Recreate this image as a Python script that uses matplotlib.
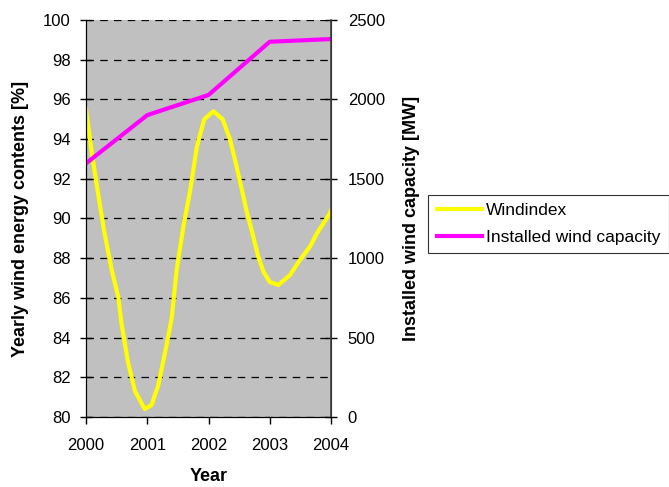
import matplotlib.pyplot as plt

plt.rcParams['font.family'] = ['Liberation Sans', 'DejaVu Sans']

# Windindex
wind_years = [2000.0, 2000.1, 2000.2, 2000.3, 2000.42, 2000.53, 2000.58, 2000.69,
              2000.8, 2000.96, 2001.07, 2001.18, 2001.32, 2001.4, 2001.48, 2001.59,
              2001.7, 2001.81, 2001.93, 2002.08, 2002.23, 2002.35, 2002.46, 2002.57,
              2002.62, 2002.73, 2002.81, 2002.9, 2003.0, 2003.14, 2003.33, 2003.49,
              2003.66, 2003.77, 2003.98, 2004.0]
wind_index = [95.5, 93.2, 91.2, 89.3, 87.4, 86.0, 84.7, 82.7,
              81.3, 80.4, 80.6, 81.6, 83.7, 85.0, 87.4, 89.6,
              91.4, 93.6, 95.0, 95.4, 95.0, 94.0, 92.6, 91.1,
              90.4, 89.1, 88.1, 87.3, 86.8, 86.65, 87.15, 87.9,
              88.6, 89.25, 90.25, 90.4]

# Installed wind capacity [MW]
cap_years = [2000, 2001, 2002, 2003, 2004]
capacity = [1597, 1901, 2028, 2363, 2380]

fig = plt.figure(figsize=(6.69, 4.87), dpi=100)
ax = fig.add_axes([86 / 669, 70 / 487, 245 / 669, 397 / 487])
ax.set_facecolor('#C0C0C0')
ax2 = ax.twinx()

l1, = ax.plot(wind_years, wind_index, color='#FFFF00', lw=3, label='Windindex')
l2, = ax2.plot(cap_years, capacity, color='#FF00FF', lw=3, label='Installed wind capacity')

ax.set_xlim(2000, 2004)
ax.set_ylim(80, 100)
ax2.set_ylim(0, 2500)
ax.set_xticks([2000, 2001, 2002, 2003, 2004])
ax.set_yticks(range(80, 101, 2))
ax2.set_yticks(range(0, 2501, 500))

ax.grid(axis='y', color='black', linestyle=(0, (6, 5)), lw=0.9)
ax.set_axisbelow(True)

for a in (ax, ax2):
    a.tick_params(labelsize=12, width=1, color='black')
    a.spines['top'].set_visible(False)
ax.tick_params(axis='y', direction='inout', length=8, pad=7)
ax.tick_params(axis='x', direction='out', length=5, pad=10)
ax2.tick_params(axis='y', direction='inout', length=8, pad=8)
ax.spines['left'].set_color('black')
ax2.spines['right'].set_color('#404040')
ax2.spines['right'].set_linewidth(1.2)

ax.set_xlabel('Year', fontsize=13, fontweight='bold', labelpad=11)
ax.set_ylabel('Yearly wind energy contents [%]', fontsize=13, fontweight='bold', labelpad=10)
ax2.set_ylabel('Installed wind capacity [MW]', fontsize=13, fontweight='bold', labelpad=13)

leg = fig.legend(handles=[l1, l2], loc='center left', bbox_to_anchor=(428 / 669, 263 / 487),
                 fontsize=12.5, frameon=True, fancybox=False, handlelength=2.6,
                 handletextpad=0.25, borderpad=0.5, labelspacing=0.65, borderaxespad=0)
leg.get_frame().set_edgecolor('black')
leg.get_frame().set_linewidth(0.8)

fig.savefig('out.png', dpi=100)
